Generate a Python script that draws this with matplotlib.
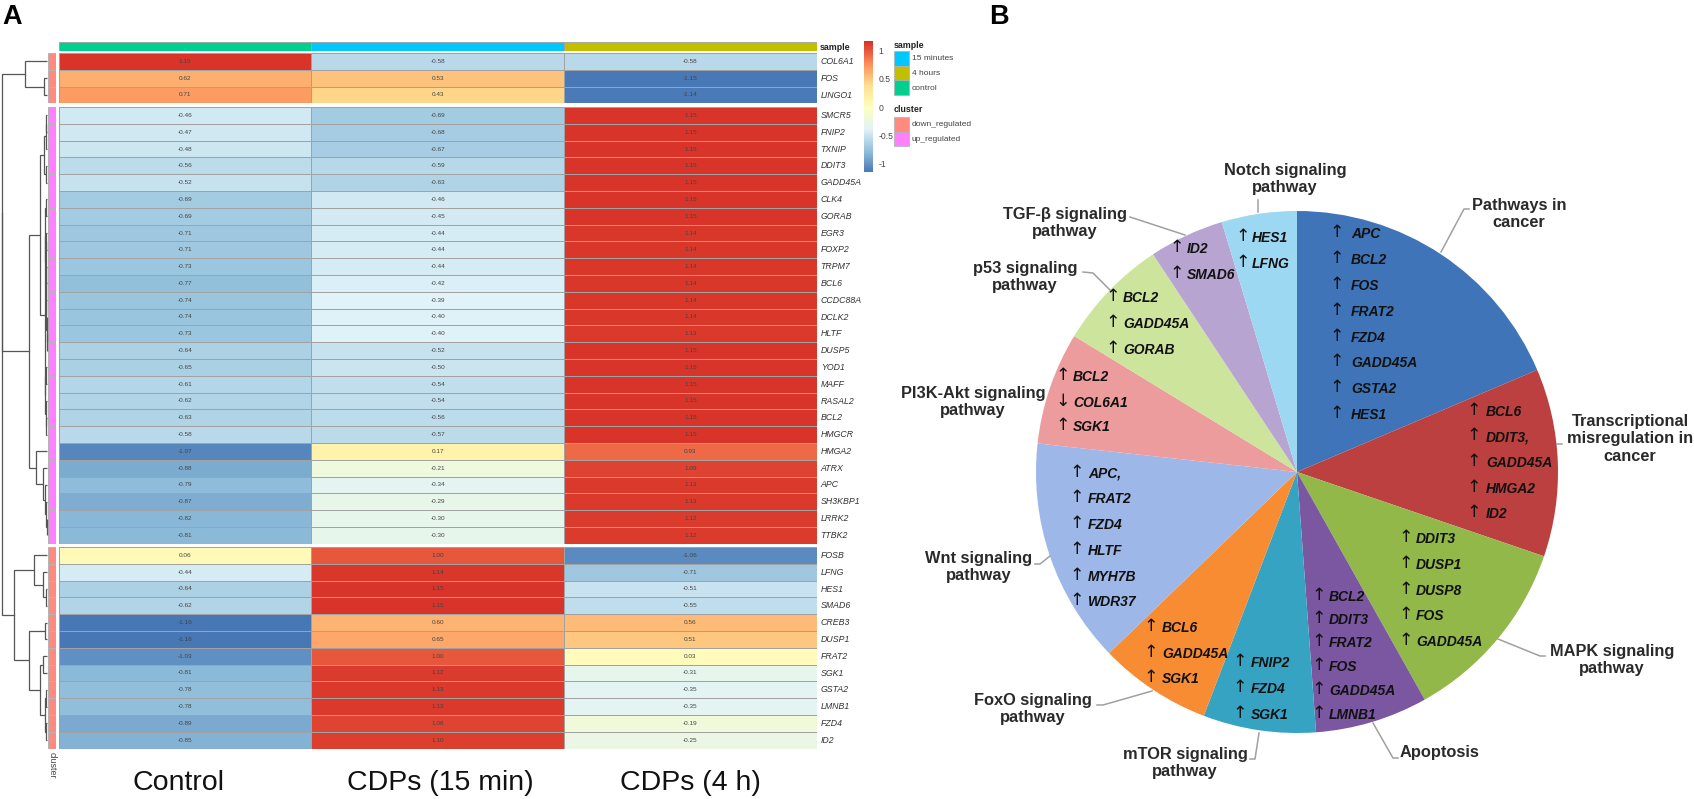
import matplotlib
matplotlib.use("Agg")
import matplotlib.pyplot as plt
import numpy as np
from matplotlib.colors import LinearSegmentedColormap
from matplotlib.patches import Rectangle

plt.rcParams['font.family'] = ['Liberation Sans', 'DejaVu Sans']

# ---------- data ----------
genes_down_top = ["COL6A1", "FOS", "LINGO1"]
control_top = [1.15, 0.62, 0.71]
min15_top = [-0.58, 0.53, 0.43]
hour4_top = [-0.58, -1.15, -1.14]

genes_up = ["SMCR5", "FNIP2", "TXNIP", "DDIT3", "GADD45A", "CLK4", "GORAB", "EGR3", "FOXP2", "TRPM7",
            "BCL6", "CCDC88A", "DCLK2", "HLTF", "DUSP5", "YOD1", "MAFF", "RASAL2", "BCL2", "HMGCR",
            "HMGA2", "ATRX", "APC", "SH3KBP1", "LRRK2", "TTBK2"]
control_up = [-0.46, -0.47, -0.48, -0.56, -0.52, -0.69, -0.69, -0.71, -0.71, -0.73,
              -0.77, -0.74, -0.74, -0.73, -0.64, -0.65, -0.61, -0.62, -0.63, -0.58,
              -1.07, -0.88, -0.79, -0.87, -0.82, -0.81]
min15_up = [-0.69, -0.68, -0.67, -0.59, -0.63, -0.46, -0.45, -0.44, -0.44, -0.44,
            -0.42, -0.39, -0.40, -0.40, -0.52, -0.50, -0.54, -0.54, -0.56, -0.57,
            0.17, -0.21, -0.34, -0.29, -0.30, -0.30]
hour4_up = [1.15, 1.15, 1.15, 1.15, 1.15, 1.15, 1.15, 1.14, 1.14, 1.14,
            1.14, 1.14, 1.14, 1.13, 1.15, 1.15, 1.15, 1.15, 1.15, 1.15,
            0.93, 1.09, 1.13, 1.13, 1.12, 1.12]

genes_down_bot = ["FOSB", "LFNG", "HES1", "SMAD6", "CREB3", "DUSP1", "FRAT2", "SGK1", "GSTA2", "LMNB1", "FZD4", "ID2"]
control_bot = [0.06, -0.44, -0.64, -0.62, -1.16, -1.16, -1.03, -0.81, -0.78, -0.78, -0.89, -0.85]
min15_bot = [1.00, 1.14, 1.15, 1.15, 0.60, 0.65, 1.00, 1.12, 1.13, 1.13, 1.08, 1.10]
hour4_bot = [-1.06, -0.71, -0.51, -0.55, 0.56, 0.51, 0.03, -0.31, -0.35, -0.35, -0.19, -0.25]

sample_labels = ["15 minutes", "4 hours", "control"]
cluster_labels = ["down_regulated", "up_regulated"]
column_titles = ["Control", "CDPs (15 min)", "CDPs (4 h)"]
cbar_ticks = [-1, -0.5, 0, 0.5, 1]
cbar_ticklabels = ["-1", "-0.5", "0", "0.5", "1"]

# dendrogram trees: (height, left, right); leaves are row indices
tree_top = (22, 0, (3, 1, 2))
tree_up = (18,
           (7, (3, (1.5, (1, 0, 1), 2), (1.5, 3, 4)),
               (2.5, (2, (1, 5, 6), (1.5, (1, 7, 8), (1.2, 9, (1, 10, (0.7, 11, (0.5, 12, (0.4, 13, 14))))))),
                     (2, (1, 15, 16), (1.2, 17, (0.7, 18, 19))))),
           (11, 20, (4, 21, (2, 22, (1, 23, (0.5, 24, 25))))))
tree_bot = (33,
            (13, 0, (4, 1, (1, 2, 3))),
            (18, (2, 4, 5), (7, (4, 6, 7), (2, (1, 8, 9), (1, 10, 11)))))
root_heights = [45, 45.5, 46]

pathways = ["Pathways in\ncancer", "Transcriptional\nmisregulation in\ncancer", "MAPK signaling\npathway",
            "Apoptosis", "mTOR signaling\npathway", "FoxO signaling\npathway", "Wnt signaling\npathway",
            "PI3K-Akt signaling\npathway", "p53 signaling\npathway", "TGF-β signaling\npathway",
            "Notch signaling\npathway"]
pathway_share = [8, 5, 5, 3, 3, 3, 6, 3, 3, 2, 2]
pathway_genes = [
    ["APC", "BCL2", "FOS", "FRAT2", "FZD4", "GADD45A", "GSTA2", "HES1"],
    ["BCL6", "DDIT3,", "GADD45A", "HMGA2", "ID2"],
    ["DDIT3", "DUSP1", "DUSP8", "FOS", "GADD45A"],
    ["BCL2", "DDIT3", "FRAT2", "FOS", "GADD45A", "LMNB1"],
    ["FNIP2", "FZD4", "SGK1"],
    ["BCL6", "GADD45A", "SGK1"],
    ["APC,", "FRAT2", "FZD4", "HLTF", "MYH7B", "WDR37"],
    ["BCL2", "COL6A1", "SGK1"],
    ["BCL2", "GADD45A", "GORAB"],
    ["ID2", "SMAD6"],
    ["HES1", "LFNG"],
]
pathway_arrows = [
    "↑" * 8, "↑" * 5, "↑" * 5, "↑" * 6, "↑" * 3, "↑" * 3, "↑" * 6, "↑↓↑", "↑" * 3, "↑" * 2, "↑" * 2,
]

# ---------- style and layout (pixels) ----------
W, H = 1694, 799
pie_colors = ["#3F75B8", "#BB403F", "#92B84A", "#7A57A0", "#37A3C3", "#F88C33",
              "#9DB8E8", "#EC9C9C", "#CDE49D", "#B8A4D0", "#9DD8F2"]
cmap = LinearSegmentedColormap.from_list("rdylbu", ["#4575B4", "#91BFDB", "#E0F3F8", "#FFFFBF",
                                                    "#FEE090", "#FC8D59", "#D73027"])
VMIN, VMAX = -1.17, 1.17
sample_colors = {"control": "#00CF8F", "15 minutes": "#00C8FF", "4 hours": "#C2BE00"}
cluster_colors = {"down_regulated": "#FF8A80", "up_regulated": "#FF80FF"}
HX0, HX1 = 58.5, 816.7
ROWH = 16.8
group_tops = [53, 107, 547]


def px_axes(x0, y0, x1, y1, **kw):
    return fig.add_axes([x0 / W, 1 - y1 / H, (x1 - x0) / W, (y1 - y0) / H], **kw)


fig = plt.figure(figsize=(W / 100, H / 100), dpi=100, facecolor="white")

groups = [
    (genes_down_top, control_top, min15_top, hour4_top, "down_regulated"),
    (genes_up, control_up, min15_up, hour4_up, "up_regulated"),
    (genes_down_bot, control_bot, min15_bot, hour4_bot, "down_regulated"),
]

for (names, c, m, h, cl), top in zip(groups, group_tops):
    n = len(names)
    arr = np.array([c, m, h]).T
    ax = px_axes(HX0, top, HX1, top + n * ROWH)
    ax.pcolormesh(np.arange(4), np.arange(n + 1), arr, cmap=cmap, vmin=VMIN, vmax=VMAX,
                  edgecolors="#a2a2a2", linewidth=0.7)
    ax.set_xlim(0, 3)
    ax.set_ylim(n, 0)
    ax.axis("off")
    for i in range(n):
        for j in range(3):
            ax.text(j + 0.5, i + 0.5, f"{arr[i, j]:.2f}", ha="center", va="center",
                    fontsize=4.6, color="#444444")
        ax.text(3 + 4 / (HX1 - HX0) * 3, i + 0.5, names[i], ha="left", va="center", style="italic",
                fontsize=6.3, color="#333333", clip_on=False)
    axc = px_axes(47.7, top, 56, top + n * ROWH)
    axc.pcolormesh([0, 1], np.arange(n + 1), np.zeros((n, 1)),
                   cmap=LinearSegmentedColormap.from_list("c", [cluster_colors[cl]] * 2),
                   edgecolors="#b5b5b5", linewidth=0.5)
    axc.set_ylim(n, 0)
    axc.axis("off")

# sample annotation bar
axs = px_axes(HX0, 41.5, HX1, 51)
for k, name in enumerate(["control", "15 minutes", "4 hours"]):
    axs.bar(k + 0.5, 1, width=1, color=sample_colors[name], edgecolor="#a0a0a0", linewidth=0.6)
axs.set_xlim(0, 3)
axs.set_ylim(0, 1)
axs.axis("off")

# colour bar
axb = px_axes(864, 40.7, 873, 171.7)
grad = np.linspace(-1.14, VMAX, 200).reshape(-1, 1)
axb.imshow(grad, origin="lower", aspect="auto", cmap=cmap, vmin=VMIN, vmax=VMAX,
           extent=[0, 1, -1.14, VMAX])
axb.set_xticks([])
axb.yaxis.tick_right()
axb.set_yticks(cbar_ticks)
axb.set_yticklabels(cbar_ticklabels, fontsize=6.2, color="#444444")
axb.tick_params(axis="y", length=0, pad=4)
for s in axb.spines.values():
    s.set_visible(False)

# pie
R = 261
axp = px_axes(1297 - R, 472 - R, 1297 + R, 472 + R)
axp.pie(pathway_share, colors=pie_colors, startangle=90, counterclock=False, radius=1)
axp.set_xlim(-1, 1)
axp.set_ylim(-1, 1)

# overlay in pixel coordinates
ov = fig.add_axes([0, 0, 1, 1], facecolor="none")
ov.set_xlim(0, W)
ov.set_ylim(H, 0)
ov.axis("off")

ov.text(2, 24, "A", fontsize=19.5, fontweight="bold", color="black", ha="left", va="baseline")
ov.text(989, 24, "B", fontsize=19.5, fontweight="bold", color="black", ha="left", va="baseline")

for t, x in zip(column_titles, [178, 440, 690]):
    ov.text(x, 783, t, fontsize=20.5, color="#111111", ha="center", va="center")

ov.text(820, 47, "sample", fontsize=6.4, fontweight="bold", color="#222222", ha="left", va="center")
ov.text(52, 765, "cluster", fontsize=6.4, rotation=270, color="#444444", ha="center", va="center")


def draw_tree(node, top):
    if not isinstance(node, tuple):
        return 0, top + (node + 0.5) * ROWH
    h, a, b = node
    ha_, ya = draw_tree(a, top)
    hb, yb = draw_tree(b, top)
    ov.plot([47 - ha_, 47 - h, 47 - h, 47 - hb], [ya, ya, yb, yb], color="#555555", lw=0.9,
            solid_capstyle="butt", solid_joinstyle="miter")
    return h, (ya + yb) / 2


nt = draw_tree(tree_top, group_tops[0])
nu = draw_tree(tree_up, group_tops[1])
nb = draw_tree(tree_bot, group_tops[2])
h1, h2, h3 = root_heights
ov.plot([47 - nt[0], 47 - h1, 47 - h1, 47 - nu[0]], [nt[1], nt[1], nu[1], nu[1]], color="#555555", lw=0.9)
y12 = (nt[1] + nu[1]) / 2
ov.plot([47 - h1, 47 - h2, 47 - h2, 47 - nb[0]], [y12, y12, nb[1], nb[1]], color="#555555", lw=0.9)

# legends
ov.text(894, 45, "sample", fontsize=6.4, fontweight="bold", color="#222222", va="center")
for i, name in enumerate(sample_labels):
    y = 51 + i * 14.7
    ov.add_patch(Rectangle((894, y), 15, 14.7, fc=sample_colors[name], ec="#b0b0b0", lw=0.5))
    ov.text(912, y + 7.6, name, fontsize=6.0, color="#444444", va="center")
ov.text(894, 110, "cluster", fontsize=6.4, fontweight="bold", color="#222222", va="center")
for i, name in enumerate(cluster_labels):
    y = 117 + i * 14.7
    ov.add_patch(Rectangle((894, y), 15, 14.7, fc=cluster_colors[name], ec="#b0b0b0", lw=0.5))
    ov.text(912, y + 7.6, name, fontsize=6.0, color="#444444", va="center")

# pie labels
label_pos = [(1519, 214), (1630, 439), (1612, 660), (1440, 752), (1185, 763), (1033, 709),
             (979, 567), (973, 402), (1025, 277), (1065, 223), (1285, 179)]
for t, (x, y) in zip(pathways, label_pos):
    ov.text(x, y, t, fontsize=11.8, fontweight="bold", color="#2a2a2a", ha="center", va="center",
            linespacing=1.22)

leaders = [
    ([1441, 1464, 1469], [252, 209, 209]),
    ([1557, 1562], [444, 444]),
    ([1498, 1540, 1545], [639, 656, 656]),
    ([1373, 1393, 1398], [723, 758, 758]),
    ([1259, 1255, 1250], [733, 759, 759]),
    ([1152, 1103, 1097], [691, 705, 705]),
    ([1050, 1040, 1035], [556, 564, 564]),
    ([1110, 1093, 1083], [290, 273, 272]),
    ([1185, 1130], [235, 217]),
    ([1258, 1258], [212, 200]),
]
for xs, ys in leaders:
    ov.plot(xs, ys, color="#a0a0a0", lw=1.1)

gene_x = [(1337, 1351), (1474, 1486), (1406, 1416), (1319, 1329), (1240, 1251), (1151, 1162),
          (1077, 1088), (1063, 1073), (1113, 1123), (1177, 1187), (1243, 1252)]
gene_y = [
    [234, 260, 286, 312, 338, 363, 389, 415],
    [412, 437, 463, 489, 514],
    [539, 565, 591, 616, 642],
    [597, 620, 643, 667, 691, 715],
    [663, 689, 715],
    [628, 654, 679],
    [474, 499, 525, 551, 577, 602],
    [377, 403, 427],
    [298, 324, 350],
    [249, 275],
    [238, 264],
]
for names, arrows, (xa, xt), ys in zip(pathway_genes, pathway_arrows, gene_x, gene_y):
    for g, ar, y in zip(names, arrows, ys):
        ov.text(xa, y - 2, ar, fontsize=12.5, color="#111111", ha="center", va="center",
                fontfamily=["DejaVu Sans"])
        ov.text(xt, y, g, fontsize=10, fontweight="bold", style="italic", color="#111111",
                ha="left", va="center")

fig.savefig("out.png", dpi=100)
